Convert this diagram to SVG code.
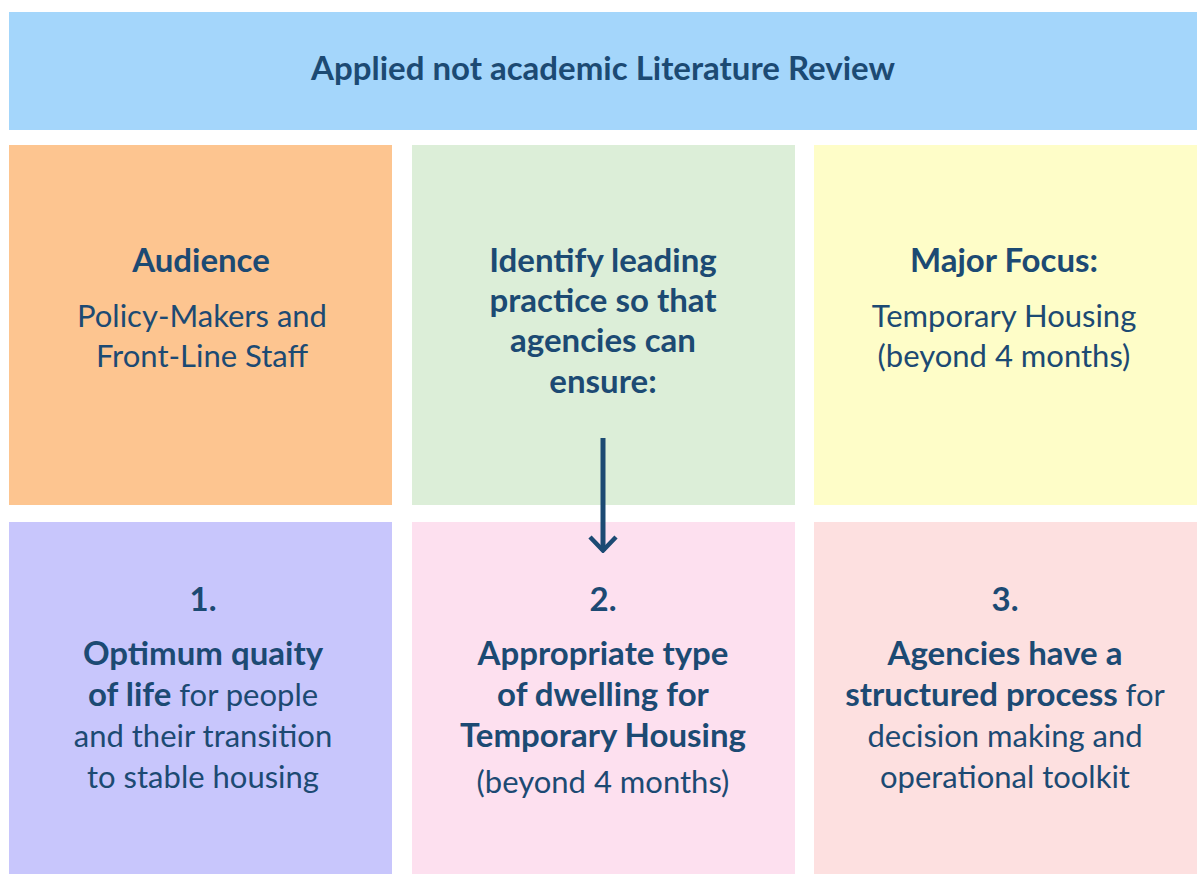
<svg xmlns="http://www.w3.org/2000/svg" width="1197" height="874" viewBox="0 0 1197 874">
  <defs>
    <style>
      text { font-family: "Lato", "Noto Sans", "DejaVu Sans", sans-serif; fill: #1c4a73; text-anchor: middle; font-size: 31px; }
      .b { font-weight: bold; font-size: 33px; }
      .r { font-weight: normal; font-size: 31px; }
      .conn { stroke: #1c4a73; stroke-width: 5; fill: none; }
    </style>
    <marker id="chev" viewBox="0 0 18 30" refX="16" refY="15" markerWidth="18" markerHeight="30" markerUnits="userSpaceOnUse" orient="auto">
      <path d="M2 2 L15.5 15 L2 28" fill="none" stroke="#1c4a73" stroke-width="4.5"/>
    </marker>
  </defs>
  <rect width="1197" height="874" fill="#ffffff"/>

  <g id="banner">
    <rect x="9" y="12" width="1188" height="118" fill="#a4d6fb"/>
    <text class="b" x="603" y="80">Applied not academic Literature Review</text>
  </g>

  <g id="audience">
    <rect x="9" y="145" width="383" height="360" fill="#fdc590"/>
    <text class="b" x="201" y="272">Audience</text>
    <text class="r" x="202" y="327">Policy-Makers and</text>
    <text class="r" x="202" y="367">Front-Line Staff</text>
  </g>

  <g id="identify">
    <rect x="412" y="145" width="383" height="360" fill="#dceed8"/>
    <text class="b" x="603" y="272">Identify leading</text>
    <text class="b" x="603" y="312">practice so that</text>
    <text class="b" x="603" y="352">agencies can</text>
    <text class="b" x="603" y="393">ensure:</text>
  </g>

  <g id="focus">
    <rect x="814" y="145" width="383" height="360" fill="#fefdc8"/>
    <text class="b" x="1004" y="272">Major Focus:</text>
    <text class="r" x="1004" y="327">Temporary Housing</text>
    <text class="r" x="1004" y="367">(beyond 4 months)</text>
  </g>

  <g id="outcome1">
    <rect x="9" y="522" width="383" height="352" fill="#c8c6fc"/>
    <text class="b" x="203" y="611">1.</text>
    <text class="b" x="203" y="665">Optimum quaity</text>
    <text x="203" y="706"><tspan class="b">of life</tspan><tspan class="r"> for people</tspan></text>
    <text class="r" x="203" y="747">and their transition</text>
    <text class="r" x="203" y="788">to stable housing</text>
  </g>

  <g id="outcome2">
    <rect x="412" y="522" width="383" height="352" fill="#fde0ef"/>
    <text class="b" x="603" y="611">2.</text>
    <text class="b" x="603" y="665">Appropriate type</text>
    <text class="b" x="603" y="706">of dwelling for</text>
    <text class="b" x="603" y="747">Temporary Housing</text>
    <text class="r" x="603" y="793">(beyond 4 months)</text>
  </g>

  <g id="outcome3">
    <rect x="814" y="522" width="383" height="352" fill="#fde0e0"/>
    <text class="b" x="1005" y="611">3.</text>
    <text class="b" x="1005" y="665">Agencies have a</text>
    <text x="1005" y="706"><tspan class="b">structured process</tspan><tspan class="r"> for</tspan></text>
    <text class="r" x="1005" y="747">decision making and</text>
    <text class="r" x="1005" y="788">operational toolkit</text>
  </g>

  <g id="connectors">
    <line class="conn" x1="603" y1="438" x2="603" y2="551" marker-end="url(#chev)"/>
  </g>
</svg>
